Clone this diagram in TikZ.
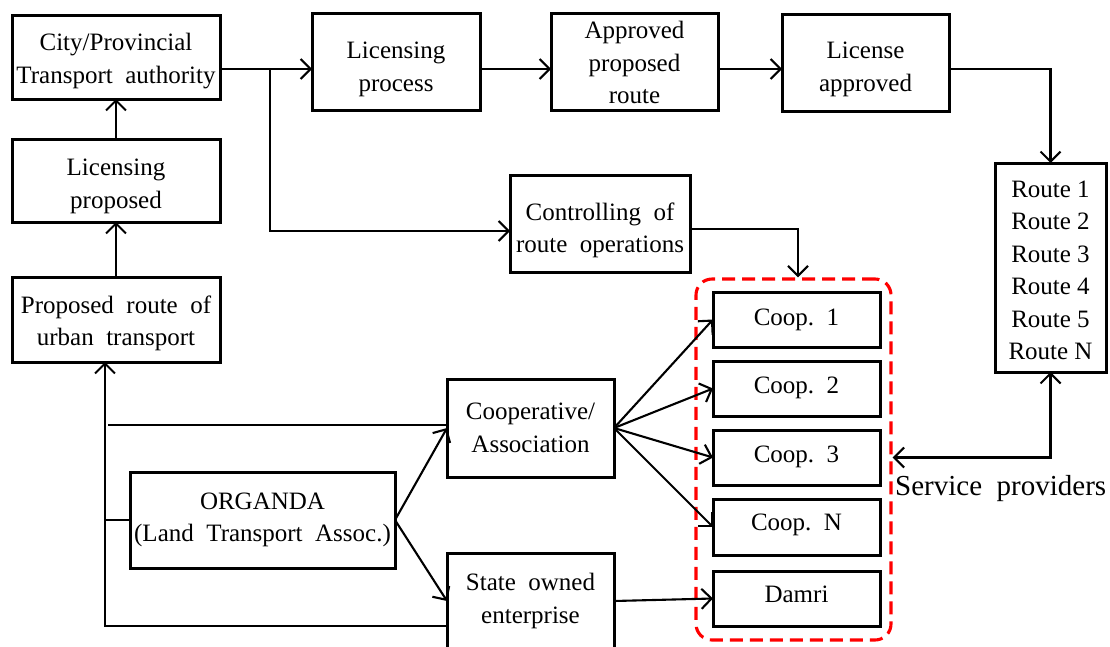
\documentclass[tikz,border=0pt]{standalone}
\usepackage{fontspec}
\setmainfont{Liberation Serif}
\usetikzlibrary{arrows.meta,calc}

\tikzset{
  frame/.style={draw, line width=3pt, inner sep=0pt, outer sep=0pt},
  txt/.style={inner sep=0pt, align=center, font=\fontsize{25}{32.5}\selectfont},
  conn/.style={line width=2.1pt},
  arr/.style={conn, -{Straight Barb[length=10pt,width=20pt]}},
  arrboth/.style={conn, {Straight Barb[length=10pt,width=20pt]}-{Straight Barb[length=10pt,width=20pt]}},
  provider/.style={draw=red, line width=3.1pt, dash pattern=on 13pt off 7pt,
                   rounded corners=16pt, inner sep=0pt, minimum width=195pt, minimum height=361pt}
}

% a framed box (name) with its text node (name-text), the text moved down by #6
\newcommand\flowbox[7]{%
  \node[frame, minimum width=#4pt, minimum height=#5pt] (#1) at (#2,#3) {};
  \node[txt] (#1-text) at (#2,#3+#6) {#7};
}

\begin{document}
\begin{tikzpicture}[x=1pt, y=-1pt]
  \clip (0,0) rectangle (1110,646);
  \fill[white] (0,0) rectangle (1110,646);

  % left column
  \flowbox{city}{116}{57}{208}{84}{4}{City/Provincial\\Transport\ \ authority}
  \flowbox{lprop}{116}{180.5}{208}{83}{6}{Licensing\\proposed}
  \flowbox{prop}{116}{319.5}{208}{85}{4}{Proposed\ \ route\ \ of\\urban\ \ transport}

  % top row
  \flowbox{lproc}{396}{61.5}{168}{97}{8}{Licensing\\process}
  \flowbox{appr}{634.5}{61.5}{167}{97}{1}{Approved\\proposed\\route}
  \flowbox{lappr}{865.5}{62.5}{167}{97}{7}{License\\approved}
  \flowbox{routes}{1050.5}{267.5}{111}{209}{3}{Route\ 1\\Route\ 2\\Route\ 3\\Route\ 4\\Route\ 5\\Route\ N}

  \flowbox{ctrl}{600}{223.5}{180}{97}{7}{Controlling\ \ of\\route\ \ operations}

  % operators
  \flowbox{organda}{262.5}{520}{265}{96}{0}{ORGANDA\\(Land\ \ Transport\ \ Assoc.)}
  \flowbox{assoc}{530.5}{428}{167}{98}{0}{Cooperative/\\Association}
  \flowbox{state}{530.5}{601}{167}{96}{0}{State\ \ owned\\enterprise}

  % service providers
  \node[provider] (sp) at (793.5,459.5) {};
  \flowbox{coop1}{796.5}{319.5}{167}{55}{0}{Coop.\ \ 1}
  \flowbox{coop2}{796.5}{388.5}{167}{55}{-1}{Coop.\ \ 2}
  \flowbox{coop3}{796.5}{457.5}{167}{55}{-1}{Coop.\ \ 3}
  \flowbox{coopN}{796.5}{527}{167}{56}{-2}{Coop.\ \ N}
  \flowbox{damri}{796.5}{598.5}{167}{55}{-4}{Damri}
  \node[anchor=west, inner sep=0pt, font=\fontsize{29}{33}\selectfont] (splabel) at (895,489)
    {Service\ \ providers};

  % helper points for the shared rows and the return line
  \coordinate (r) at (0,69);
  \coordinate (br) at (270,69);
  \coordinate (c2) at (0,231);
  \coordinate (cd) at (798,229);
  \coordinate (vb) at (105,626);

  % licensing chain
  \draw[arr] (city.east |- r) -- (lproc.west |- r);
  \draw[arr] (br) |- (ctrl.west |- c2);
  \draw[arr] (lproc.east |- r) -- (appr.west |- r);
  \draw[arr] (appr.east |- r) -- (lappr.west |- r);
  \draw[arr] (lappr.east |- r) -| (routes.north);
  \draw[arr] (lprop.north) -- (city.south);
  \draw[arr] (prop.north) -- (lprop.south);

  % control of operations
  \draw[arr] (ctrl.east |- cd) -| (sp.north -| cd);

  % routes and service providers
  \draw[arrboth] (routes.south) |- (sp.east |- coop3);

  % cooperative branches
  \draw[arr] (assoc.east) -- (coop1.west);
  \draw[arr] (assoc.east) -- (coop2.west);
  \draw[arr] (assoc.east) -- (coop3.west);
  \draw[arr] (assoc.east) -- (coopN.west);
  \draw[arr] (state.east) -- (damri.west);

  % ORGANDA links
  \draw[arr] (organda.east) -- (assoc.west);
  \draw[arr] (organda.east) -- (state.west);

  % return line to the proposed route
  \draw[arr] (state.west |- vb) -| (prop.south -| vb);
  \draw[conn] (assoc.west |- 0,425) -- ($(vb |- 0,425)+(3,0)$);
  \draw[conn] (organda.west) -- (vb |- organda.west);
\end{tikzpicture}
\end{document}
